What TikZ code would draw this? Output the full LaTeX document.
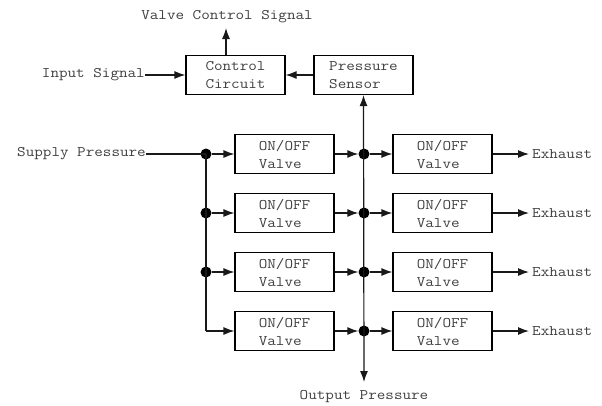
\documentclass[tikz,border=0pt]{standalone}
\usepackage{fontspec}
\newfontfamily\cour[FakeStretch=1.14]{Latin Modern Mono}
\usetikzlibrary{arrows.meta}
\begin{document}
\begin{tikzpicture}[x=1pt,y=-1pt,
  every node/.style={font=\cour\fontsize{14.6}{18}\selectfont, text=black!75, inner sep=0pt},
  box/.style={draw=black, line width=1.2pt, minimum width=99pt, minimum height=39pt, align=left},
  ln/.style={draw=black!90, line width=1.2pt},
  tip/.tip={Latex[length=11pt,width=8pt]},
  arr/.style={ln, -tip},
  dot/.style={circle, fill=black, minimum size=11pt, inner sep=0pt},
  lbl/.style={}]
\useasboundingbox (0,0) rectangle (602,405);
% top part
\node[box] (ctrl) at (235.5,75) {Control\\Circuit};
\node[box] (sens) at (363.5,75) {Pressure\\Sensor};
\node[lbl] (vcs) at (227,17) {Valve Control Signal};
\node[lbl, anchor=east] (inp) at (145,75) {Input Signal};
\draw[arr] (inp.east) -- (ctrl.west);
\draw[arr] (sens.west) -- (ctrl.east);
\draw[arr] (ctrl.north -| 226,0) -- (226,28);
% supply
\node[lbl, anchor=east] (sup) at (146,154) {Supply Pressure};
\node[dot] (lb1) at (206,154) {};
\node[dot] (lb2) at (206,213) {};
\node[dot] (lb3) at (206,272) {};
\coordinate (lb4) at (206,331);
\draw[ln] (sup.east) -- (lb1.center);
\draw[ln] (lb1.center) -- (lb4);
\foreach \i/\y in {1/154,2/213,3/272,4/331}{
  \node[box] (va\i) at (284.5,\y) {ON/OFF\\Valve};
  \node[box] (vb\i) at (442.5,\y) {ON/OFF\\Valve};
  \node[dot] (rb\i) at (364,\y) {};
  \node[lbl, anchor=west] (ex\i) at (532,\y) {Exhaust};
  \draw[arr] (lb\i) -- (va\i.west);
  \draw[arr] (va\i.east) -- (rb\i);
  \draw[arr] (rb\i) -- (vb\i.west);
  \draw[arr] (vb\i.east) -- ([xshift=-3pt]ex\i.west);
}
% output
\node[lbl] (out) at (364,397) {Output Pressure};
\coordinate (obot) at (364,382);
\draw[ln, tip-tip] (sens.south) -- (obot);
\end{tikzpicture}
\end{document}
